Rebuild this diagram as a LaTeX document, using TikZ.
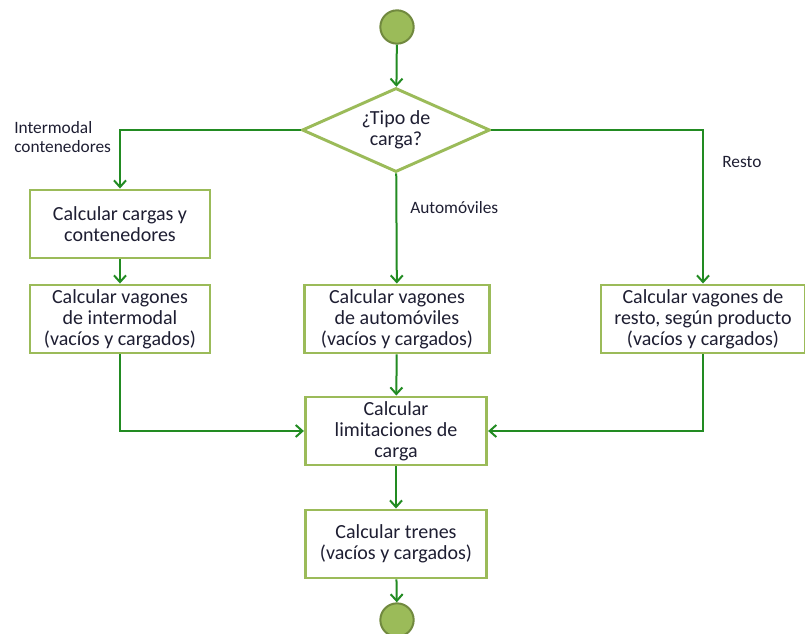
\documentclass[tikz,border=0pt]{standalone}
\usepackage{fontspec}
\setmainfont{Carlito}
\usepackage{tikz}
\usetikzlibrary{shapes.geometric,arrows.meta}
\definecolor{verdeclaro}{RGB}{155,187,89}
\definecolor{verdeborde}{RGB}{113,137,63}
\definecolor{verdeflecha}{RGB}{34,139,34}
\definecolor{texto}{RGB}{30,30,50}

\begin{document}
\begin{tikzpicture}[x=0.75pt,y=-0.75pt,
		caja/.style={draw=verdeclaro,line width=2.2pt,fill=white,align=center,
			minimum width=135pt,minimum height=51pt,inner sep=0pt,
			font=\fontsize{15}{15.8}\selectfont,text=texto},
		decision/.style={diamond,draw=verdeclaro,line width=2.2pt,fill=white,align=center,
			minimum width=141pt,minimum height=63pt,inner sep=0pt,aspect=2.2,
			font=\fontsize{15}{15.8}\selectfont,text=texto},
		estado/.style={circle,draw=verdeborde,line width=1.5pt,fill=verdeclaro,minimum size=25pt},
		flecha/.style={draw=verdeflecha,line width=1.5pt,-{Straight Barb[length=5pt,width=9pt]}},
		etiqueta/.style={font=\fontsize{13}{14.3}\selectfont,text=texto,align=left,inner sep=0pt}]
			\useasboundingbox (0,0) rectangle (805,634);
			\node[estado] (inicio) at (397,27) {};
			\node[decision] (tipo) at (396,130) {¿Tipo de\\carga?};
			\foreach \n/\x/\y/\w/\t in
			{cargas/120/224/135/{Calcular cargas y\\contenedores},
			 intermodal/120/319/135/{Calcular vagones\\de intermodal\\(vacíos y cargados)},
			 automoviles/397/319/139/{Calcular vagones\\de automóviles\\(vacíos y cargados)},
			 resto/703/319/153/{Calcular vagones de\\resto, según producto\\(vacíos y cargados)},
			 limites/396/431/136/{Calcular\\limitaciones de\\carga},
			 trenes/396/544/136/{Calcular trenes\\(vacíos y cargados)}}{
				\node[caja,minimum width=\w pt] (\n) at (\x,\y) {\t};
			}
			\node[estado] (fin) at (397,620) {};
			
			\node[etiqueta,anchor=north west] (lintermodal) at (14,121) {Intermodal\\contenedores};
			\node[etiqueta,anchor=west] (lautomoviles) at (410,208) {Automóviles};
			\node[etiqueta,anchor=west] (lresto) at (722,162) {Resto};
			
			\draw[flecha] (tipo.west) -| (cargas);
			\draw[flecha] (tipo.east) -| (resto);
			\draw[flecha] (intermodal) |- (limites);
			\draw[flecha] (resto) |- (limites);
			\foreach \x/\y in
			{inicio/tipo, tipo/automoviles, cargas/intermodal, automoviles/limites, limites/trenes, trenes/fin}{
				\draw[flecha] (\x)--(\y);
			}
		\end{tikzpicture}
\end{document}
